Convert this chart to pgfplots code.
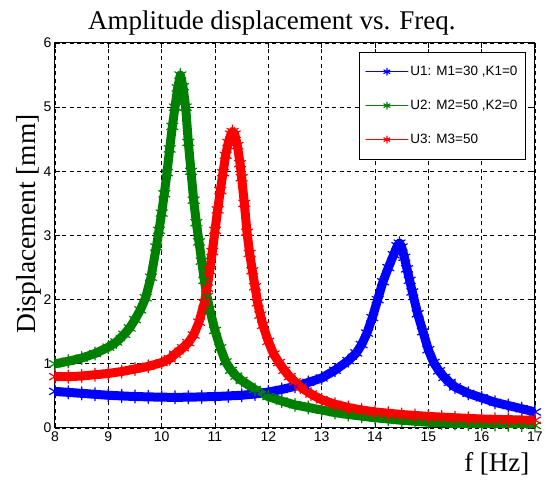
\documentclass[border=0pt]{standalone}
\usepackage{pgfplots}
\pgfplotsset{compat=1.18}
\usepackage{fontspec}
\setmainfont{Liberation Serif}
\newfontfamily\arial{Liberation Sans}

\definecolor{mblue}{rgb}{0,0,1}
\definecolor{mgreen}{rgb}{0,0.5,0}
\definecolor{mred}{rgb}{1,0,0}

\pgfplotsset{
    band/.style={
        line width=9pt, line join=round, line cap=round,
        mark=asterisk, mark size=6.5pt,
        mark options={solid, line width=1.2pt},
    },
}

\begin{document}
\begin{tikzpicture}
    \useasboundingbox (-55pt,-62pt) rectangle (495pt,428pt);
    \begin{axis}[
        at={(0,0)}, anchor=south west,
        width=480pt, height=385pt, scale only axis,
        xmin=8, xmax=17, ymin=0, ymax=6,
        xtick={8,...,17}, ytick={0,...,6},
        grid=major,
        major grid style={black, line width=0.9pt, dash pattern=on 4pt off 3.5pt},
        axis line style={black, line width=1pt},
        tick align=inside, major tick length=5pt,
        tick style={black, line width=0.9pt},
        tick label style={font=\arial\fontsize{14}{14}\selectfont},
        /pgf/number format/assume math mode=true,
        title={Amplitude displacement vs. Freq.},
        title style={font=\fontsize{27}{28}\selectfont,
            at={(rel axis cs:0.452,1)}, anchor=base, yshift=7pt},
        xlabel={f [Hz]},
        xlabel style={font=\fontsize{27}{28}\selectfont,
            at={(rel axis cs:1,0)}, anchor=base east, yshift=-44pt, xshift=-2pt},
        ylabel={Displacement [mm]},
        ylabel style={font=\fontsize{27.5}{28}\selectfont,
            at={(rel axis cs:0,0.53)}, anchor=base, yshift=19pt},
        legend style={
            at={(rel axis cs:0.981,0.977)}, anchor=north east,
            draw=black, line width=0.8pt, fill=white,
            font=\arial\fontsize{13.5}{14}\selectfont,
            row sep=19pt, inner xsep=6pt, inner ysep=12pt,
        },
        legend cell align=left,
        legend image code/.code={
            \draw[#1, line width=1pt, mark size=3.5pt, mark repeat=2, mark phase=2]
                plot coordinates {(0pt,0pt) (21pt,0pt) (42pt,0pt)};
        },
    ]
    % U1: M1=30, K1=0
    \addplot[band, color=mblue] coordinates {
        (8.0,0.57)(8.25,0.555)(8.5,0.54)(8.75,0.525)(9.0,0.51)(9.25,0.50)
        (9.5,0.49)(9.75,0.485)(10.0,0.48)(10.25,0.478)(10.5,0.48)(10.75,0.485)
        (11.0,0.49)(11.25,0.50)(11.5,0.51)(11.75,0.53)(12.0,0.56)(12.25,0.60)
        (12.5,0.65)(12.75,0.71)(13.0,0.78)(13.25,0.90)(13.5,1.05)(13.65,1.17)
        (13.75,1.30)(13.85,1.48)(13.95,1.72)(14.05,2.0)(14.15,2.28)(14.25,2.50)
        (14.35,2.70)(14.42,2.84)(14.46,2.88)(14.5,2.82)(14.55,2.66)(14.6,2.48)
        (14.65,2.30)(14.7,2.12)(14.8,1.78)(14.9,1.50)(15.0,1.22)(15.1,1.02)
        (15.2,0.89)(15.3,0.79)(15.4,0.71)(15.5,0.64)(15.75,0.54)(16.0,0.47)
        (16.25,0.40)(16.5,0.35)(16.75,0.30)(17.0,0.25)
    };
    \addlegendentry{U1: M1=30 ,K1=0}
    % U2: M2=50, K2=0
    \addplot[band, color=mgreen] coordinates {
        (8.0,1.00)(8.25,1.04)(8.5,1.09)(8.75,1.16)(9.0,1.26)(9.15,1.34)
        (9.3,1.46)(9.4,1.56)(9.5,1.69)(9.6,1.84)(9.7,2.03)(9.8,2.35)
        (9.9,2.82)(9.95,3.08)(10.0,3.35)(10.05,3.65)(10.1,3.98)(10.15,4.35)
        (10.2,4.70)(10.25,5.0)(10.3,5.3)(10.35,5.5)(10.4,5.32)(10.45,5.0)
        (10.5,4.45)(10.55,4.0)(10.6,3.55)(10.65,3.2)(10.7,2.9)(10.75,2.6)
        (10.8,2.3)(10.85,2.05)(10.9,1.85)(11.0,1.52)(11.1,1.25)(11.2,1.03)
        (11.3,0.90)(11.4,0.81)(11.5,0.74)(11.75,0.60)(12.0,0.49)(12.25,0.42)
        (12.5,0.36)(12.75,0.32)(13.0,0.28)(13.25,0.24)(13.5,0.21)(13.75,0.185)
        (14.0,0.16)(14.25,0.14)(14.5,0.12)(14.75,0.105)(15.0,0.09)(15.25,0.08)
        (15.5,0.07)(15.75,0.065)(16.0,0.06)(16.25,0.055)(16.5,0.05)(16.75,0.045)
        (17.0,0.04)
    };
    \addlegendentry{U2: M2=50 ,K2=0}
    % U3: M3=50
    \addplot[band, color=mred] coordinates {
        (8.0,0.80)(8.25,0.80)(8.5,0.81)(8.75,0.83)(9.0,0.85)(9.25,0.88)
        (9.5,0.92)(9.75,0.96)(10.0,1.02)(10.15,1.08)(10.25,1.15)(10.4,1.25)
        (10.5,1.33)(10.6,1.45)(10.7,1.65)(10.8,1.95)(10.85,2.18)(10.9,2.45)
        (10.95,2.75)(11.0,3.08)(11.05,3.4)(11.1,3.7)(11.15,3.98)(11.2,4.25)
        (11.25,4.45)(11.3,4.58)(11.33,4.62)(11.37,4.58)(11.42,4.4)(11.47,4.12)
        (11.5,3.9)(11.55,3.5)(11.6,3.05)(11.65,2.72)(11.7,2.45)(11.75,2.2)
        (11.8,1.95)(11.85,1.76)(11.9,1.6)(12.0,1.35)(12.1,1.15)(12.2,1.02)
        (12.3,0.90)(12.4,0.80)(12.5,0.72)(12.6,0.64)(12.8,0.53)(13.0,0.44)
        (13.25,0.37)(13.5,0.32)(13.75,0.28)(14.0,0.25)(14.25,0.23)(14.5,0.21)
        (14.75,0.195)(15.0,0.18)(15.25,0.17)(15.5,0.16)(15.75,0.15)(16.0,0.14)
        (16.25,0.135)(16.5,0.13)(16.75,0.125)(17.0,0.12)
    };
    \addlegendentry{U3: M3=50}
    \end{axis}
\end{tikzpicture}
\end{document}
